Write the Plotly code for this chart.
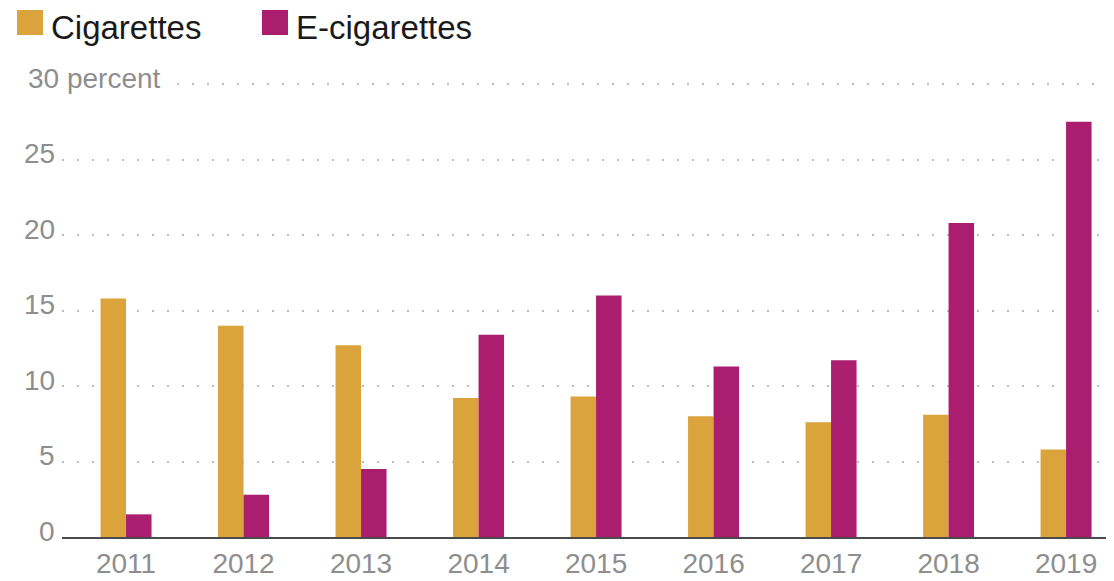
import plotly.graph_objects as go

years = ["2011", "2012", "2013", "2014", "2015", "2016", "2017", "2018", "2019"]
cigarettes = [15.8, 14.0, 12.7, 9.2, 9.3, 8.0, 7.6, 8.1, 5.8]
e_cigarettes = [1.5, 2.8, 4.5, 13.4, 16.0, 11.3, 11.7, 20.8, 27.5]
series_names = ["Cigarettes", "E-cigarettes"]
y_ticks = [0, 5, 10, 15, 20, 25]
y_tick_labels = ["0", "5", "10", "15", "20", "25"]
top_tick = 30
top_tick_label = "30 percent"

CIG = "#DAA33B"
ECIG = "#AB1E6F"
TICKFONT = "Liberation Sans, Arial, sans-serif"
REG = "Liberation Sans, Arial, sans-serif"
TICKCOL = "#8e8e8e"

# the page body adds an 8px offset; work in reference-pixel coordinates
OFF = 8
W, H = 1114 - OFF, 581 - OFF
L_ref, T_ref, B_ref = 62, 69, 537
L = L_ref - OFF
T = T_ref - OFF
Bm = H - (B_ref - OFF)
PW = W - L
PH = H - T - Bm


def px_x(p):
    return (p - L_ref) / PW


def px_y(p):
    return (B_ref - p) / PH


fig = go.Figure()
fig.add_trace(go.Bar(x=years, y=cigarettes, name=series_names[0], marker_color=CIG,
                     marker_line_width=0))
fig.add_trace(go.Bar(x=years, y=e_cigarettes, name=series_names[1], marker_color=ECIG,
                     marker_line_width=0))

annotations = []
for v, t in zip(y_ticks, y_tick_labels):
    annotations.append(dict(x=px_x(57), xref="paper", y=v, yref="y", text=t,
                            showarrow=False, xanchor="right", yanchor="middle",
                            yshift=6, font=dict(family=TICKFONT, size=28, color=TICKCOL)))
annotations.append(dict(x=px_x(26), xref="paper", y=top_tick, yref="y", text=top_tick_label,
                        showarrow=False, xanchor="left", yanchor="middle",
                        yshift=6, font=dict(family=TICKFONT, size=28, color=TICKCOL)))

# legend
legend_items = [(17, series_names[0], CIG), (262, series_names[1], ECIG)]
shapes = []
for x0, name, col in legend_items:
    shapes.append(dict(type="rect", xref="paper", yref="paper",
                       x0=px_x(x0), x1=px_x(x0 + 26), y0=px_y(35), y1=px_y(10),
                       fillcolor=col, line_width=0))
    annotations.append(dict(x=px_x(x0 + 32), xref="paper", y=px_y(27), yref="paper",
                            text=name, showarrow=False, xanchor="left", yanchor="middle",
                            font=dict(family=REG, size=33, color="#1a1a1a")))

# top dotted gridline (starts after the label)
shapes.append(dict(type="line", xref="paper", yref="y", x0=px_x(177), x1=1,
                   y0=top_tick, y1=top_tick,
                   line=dict(color="#bdbdbd", width=2, dash="2px,13px")))

fig.update_layout(
    width=W, height=H,
    margin=dict(l=L, r=0, t=T, b=Bm, pad=0),
    paper_bgcolor="white", plot_bgcolor="white",
    barmode="group", bargap=0.566, bargroupgap=0,
    showlegend=False,
    shapes=shapes, annotations=annotations,
    xaxis=dict(type="category", range=[-0.545, 8.408], showgrid=False,
               showline=True, linecolor="#4a4a4a", linewidth=2,
               ticks="", tickfont=dict(family=TICKFONT, size=28, color=TICKCOL),
               automargin=False, ticklabelstandoff=0, fixedrange=True),
    yaxis=dict(range=[0, 31], tickvals=y_ticks, showticklabels=False,
               showgrid=True, gridcolor="#bdbdbd", gridwidth=2, griddash="2px,13px",
               zeroline=False, automargin=False, fixedrange=True),
)

fig.write_html("out.html")
